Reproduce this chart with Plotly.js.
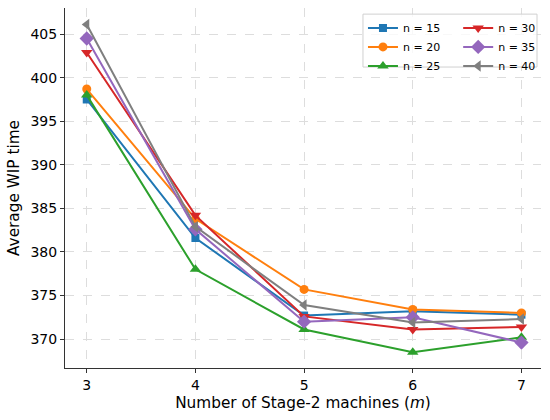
<!DOCTYPE html>
<html>
<head>
<meta charset="utf-8">
<script src="https://cdn.plot.ly/plotly-3.0.1.min.js"></script>
<style>html,body{margin:0;padding:0;background:#fff;}#chart{width:550px;height:420px;}</style>
</head>
<body>
<div id="chart"></div>
<script>
const machines = [3, 4, 5, 6, 7];
const seriesNames = ["n = 15", "n = 20", "n = 25", "n = 30", "n = 35", "n = 40"];
const n15 = [397.5, 381.6, 372.7, 373.2, 372.8];
const n20 = [398.7, 383.8, 375.7, 373.4, 373.0];
const n25 = [398.0, 378.0, 371.1, 368.5, 370.2];
const n30 = [402.9, 384.2, 372.6, 371.1, 371.4];
const n35 = [404.5, 382.6, 372.0, 372.5, 369.6];
const n40 = [406.1, 382.9, 373.9, 371.9, 372.3];
const yTicks = [370, 375, 380, 385, 390, 395, 400, 405];

const allValues = [n15, n20, n25, n30, n35, n40];
const colors = ["#1f77b4", "#ff7f0e", "#2ca02c", "#d62728", "#9467bd", "#7f7f7f"];
const symbols = ["square", "circle", "triangle-up", "triangle-down", "diamond", "triangle-left"];
const markerSizes = [8, 9, 10, 10, 11, 10];

const traces = allValues.map((vals, i) => ({
  x: machines, y: vals, name: seriesNames[i], type: "scatter", mode: "lines+markers",
  line: {color: colors[i], width: 2},
  marker: {color: colors[i], symbol: symbols[i], size: markerSizes[i]},
  legend: i < 3 ? "legend" : "legend2"
}));

const legFont = {family: "DejaVu Sans, sans-serif", size: 11, color: "#000"};
const legCommon = {
  orientation: "v", yanchor: "top", xanchor: "left", y: 0.985,
  bgcolor: "rgba(0,0,0,0)", borderwidth: 0, font: legFont, itemwidth: 30, tracegroupgap: 0
};
const layout = {
  width: 550, height: 420,
  margin: {l: 65, r: 9, t: 8, b: 52},
  paper_bgcolor: "#fff", plot_bgcolor: "#fff",
  font: {family: "DejaVu Sans, sans-serif", color: "#000"},
  showlegend: true,
  legend: Object.assign({}, legCommon, {x: 0.626}),
  legend2: Object.assign({}, legCommon, {x: 0.826}),
  shapes: [{
    type: "rect", xref: "paper", yref: "paper", layer: "above",
    x0: 0.626, x1: 0.9916, y0: 0.836, y1: 0.983,
    line: {color: "#d0d0d0", width: 1}, fillcolor: "rgba(255,255,255,0.8)"
  }],
  xaxis: {
    range: [2.8, 7.18], tickvals: machines, ticktext: machines.map(String),
    showline: true, linecolor: "#333", linewidth: 1, mirror: false,
    ticks: "outside", ticklen: 4, tickcolor: "#333",
    showgrid: true, gridcolor: "#ddd", griddash: "dash", gridwidth: 1,
    zeroline: false, tickfont: {size: 14},
    title: {text: "Number of Stage-2 machines (<i>m</i>)", font: {size: 15.3}, standoff: 5}
  },
  yaxis: {
    range: [366.68, 408.0], tickvals: yTicks, ticktext: yTicks.map(String),
    showline: true, linecolor: "#333", linewidth: 1, mirror: false,
    ticks: "outside", ticklen: 4, tickcolor: "#333",
    showgrid: true, gridcolor: "#ddd", griddash: "dash", gridwidth: 1,
    zeroline: false, tickfont: {size: 14},
    title: {text: "Average WIP time", font: {size: 15.3}, standoff: 7}
  }
};
Plotly.newPlot("chart", traces, layout, {displayModeBar: false, staticPlot: true});
</script>
</body>
</html>
